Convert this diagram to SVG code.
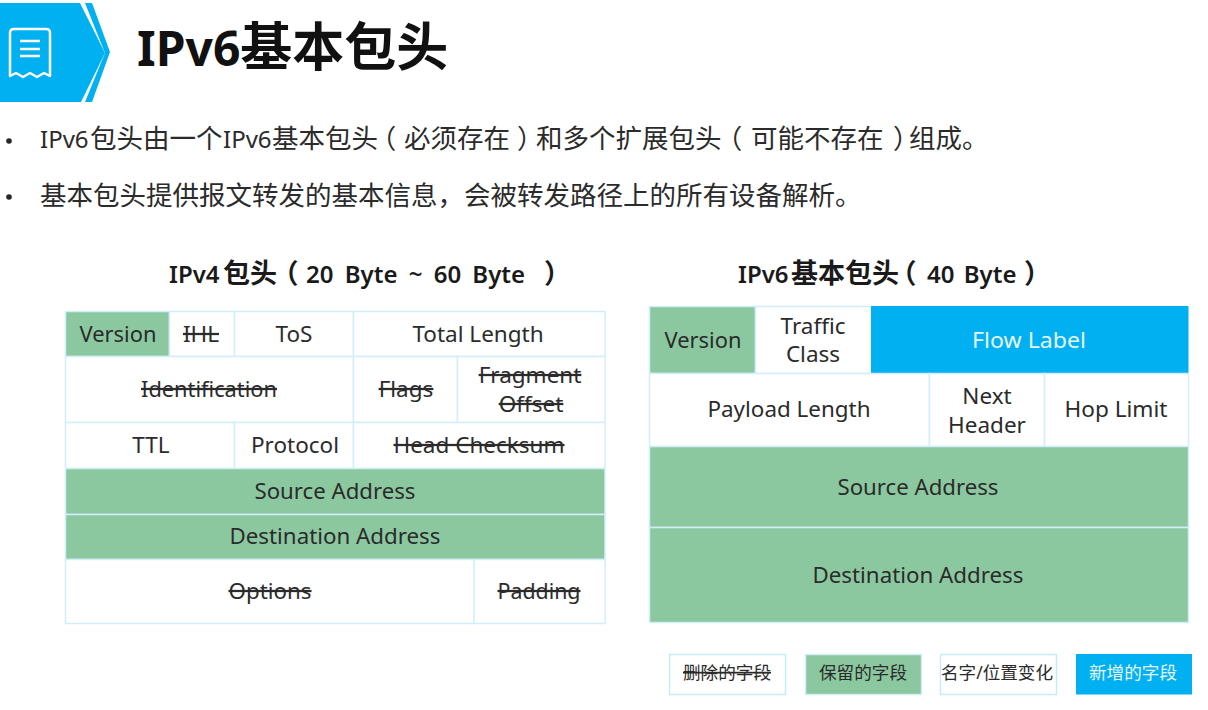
<svg xmlns="http://www.w3.org/2000/svg" width="1208" height="710" viewBox="0 0 1208 710">
<style>
text{font-family:"Noto Sans","Noto Sans CJK SC",sans-serif;fill:#2b2b2b;text-anchor:middle}
.t{font-size:22.500px}
.s{text-decoration:line-through}
.l{text-anchor:start;font-size:26.500px}
.l .a{font-size:24px}
.h{font-size:27px;font-weight:700;fill:#1a1a1a;text-anchor:start}
.h .a{font-size:24px;font-weight:600}
.p{font-feature-settings:"halt"}
.g{font-size:17.600px}
rect{stroke:#d3eefb;stroke-width:1.5;fill:#fff}
rect.k{fill:#8bc8a0}
rect.n{fill:#00b0f0;stroke:none}
</style>
<g id="banner">
<path d="M0 3H80L105 53L81 102H0Z" fill="#00b0f0"/>
<path d="M85 3H92L110 52L92 102H85L105 53Z" fill="#00b0f0"/>
<path d="M10 33Q10 29 14 29H46Q50 29 50 33V76L44 73L37 77L30 73L23 77L16 73L10 76Z" fill="none" stroke="#fff" stroke-width="2.500" stroke-linejoin="round"/>
<path d="M20 41H40M20 49H40M20 56H40" stroke="#fff" stroke-width="2.500" fill="none"/>
<text x="137" y="66" style="font-size:52px;font-weight:700;text-anchor:start;fill:#111"><tspan style="font-size:48px">IPv6</tspan>基本包头</text>
</g>
<g id="bullets">
<circle cx="9" cy="141" r="2.800" fill="#262626"/>
<circle cx="9" cy="197" r="2.800" fill="#262626"/>
<text class="l" x="40" y="148"><tspan class="a">IPv6</tspan><tspan x="90">包头由一个</tspan><tspan class="a" x="223">IPv6</tspan><tspan x="272">基本包头</tspan><tspan class="p" x="383">（</tspan><tspan x="404">必须存在</tspan><tspan class="p" x="517">）</tspan><tspan x="536">和多个扩展包头</tspan><tspan class="p" x="729">（</tspan><tspan x="751">可能不存在</tspan><tspan class="p" x="893">）</tspan><tspan x="909">组成。</tspan></text>
<text class="l" x="40" y="205">基本包头提供报文转发的基本信息，会被转发路径上的所有设备解析。</text>
</g>
<text class="h" x="169" y="283"><tspan class="a">IPv4</tspan><tspan x="223">包头</tspan><tspan class="p" x="285">（</tspan><tspan class="a" x="306" style="word-spacing:5px">20 Byte ~ 60 Byte</tspan><tspan class="p" x="544">）</tspan></text>
<text class="h" x="738" y="283"><tspan class="a">IPv6</tspan><tspan x="791">基本包头</tspan><tspan class="p" x="903">（</tspan><tspan class="a" x="927" style="word-spacing:3px">40 Byte</tspan><tspan class="p" x="1024">）</tspan></text>
<g id="ipv4">
<g id="v4-version"><rect class="k" x="65.500" y="311.500" width="104" height="45"/><text class="t" x="118" y="342" textLength="77" lengthAdjust="spacingAndGlyphs">Version</text></g>
<g id="v4-ihl"><rect x="169.500" y="311.500" width="65" height="45"/><text class="t s" x="201" y="342">IHL</text></g>
<g id="v4-tos"><rect x="234.500" y="311.500" width="119" height="45"/><text class="t" x="294" y="342">ToS</text></g>
<g id="v4-total"><rect x="353.500" y="311.500" width="251.500" height="45"/><text class="t" x="478" y="342">Total Length</text></g>
<g id="v4-id"><rect x="65.500" y="356.500" width="288" height="66"/><text class="t s" x="209" y="397" textLength="136" lengthAdjust="spacingAndGlyphs">Identification</text></g>
<g id="v4-flags"><rect x="353.500" y="356.500" width="104" height="66"/><text class="t s" x="406" y="397">Flags</text></g>
<g id="v4-frag"><rect x="457.500" y="356.500" width="147.500" height="66"/><text class="t s" x="530" y="383">Fragment</text><text class="t s" x="531" y="412">Offset</text></g>
<g id="v4-ttl"><rect x="65.500" y="422.500" width="169" height="46"/><text class="t" x="151" y="453">TTL</text></g>
<g id="v4-proto"><rect x="234.500" y="422.500" width="119" height="46"/><text class="t" x="295" y="453">Protocol</text></g>
<g id="v4-csum"><rect x="353.500" y="422.500" width="251.500" height="46"/><text class="t s" x="479" y="453">Head Checksum</text></g>
<g id="v4-src"><rect class="k" x="65.500" y="468.500" width="539.500" height="46"/><text class="t" x="335" y="499" textLength="161" lengthAdjust="spacingAndGlyphs">Source Address</text></g>
<g id="v4-dst"><rect class="k" x="65.500" y="514.500" width="539.500" height="45"/><text class="t" x="335" y="544" textLength="211" lengthAdjust="spacingAndGlyphs">Destination Address</text></g>
<g id="v4-opt"><rect x="65.500" y="559.500" width="408.500" height="64"/><text class="t s" x="270" y="599" textLength="83" lengthAdjust="spacingAndGlyphs">Options</text></g>
<g id="v4-pad"><rect x="474" y="559.500" width="131" height="64"/><text class="t s" x="539" y="599" textLength="83" lengthAdjust="spacingAndGlyphs">Padding</text></g>
</g>
<g id="ipv6">
<g id="v6-version"><rect class="k" x="649.500" y="306.500" width="106" height="67"/><text class="t" x="703" y="348" textLength="77" lengthAdjust="spacingAndGlyphs">Version</text></g>
<g id="v6-tc"><rect x="755.500" y="306.500" width="116" height="67"/><text class="t" x="813" y="334">Traffic</text><text class="t" x="813" y="362">Class</text></g>
<g id="v6-flow"><rect class="n" x="871" y="306" width="317.500" height="67.500"/><text class="t" x="1029" y="348" style="fill:#e4f6fe" textLength="114" lengthAdjust="spacingAndGlyphs">Flow Label</text></g>
<g id="v6-payload"><rect x="649.500" y="373.500" width="280" height="73"/><text class="t" x="789" y="417" textLength="163" lengthAdjust="spacingAndGlyphs">Payload Length</text></g>
<g id="v6-next"><rect x="929.500" y="373.500" width="115" height="73"/><text class="t" x="987" y="404">Next</text><text class="t" x="987" y="433">Header</text></g>
<g id="v6-hop"><rect x="1044.500" y="373.500" width="144" height="73"/><text class="t" x="1116" y="417" textLength="103" lengthAdjust="spacingAndGlyphs">Hop Limit</text></g>
<g id="v6-src"><rect class="k" x="649.500" y="446.500" width="539" height="81"/><text class="t" x="918" y="495" textLength="161" lengthAdjust="spacingAndGlyphs">Source Address</text></g>
<g id="v6-dst"><rect class="k" x="649.500" y="527.500" width="539" height="95"/><text class="t" x="918" y="583" textLength="211" lengthAdjust="spacingAndGlyphs">Destination Address</text></g>
</g>
<g id="legend">
<g id="lg-del"><rect x="669.500" y="654.500" width="116" height="40" style="stroke:#c5ebfb"/><text class="g s" x="727" y="679">删除的字段</text></g>
<g id="lg-keep"><rect class="k" x="805.500" y="654.500" width="116" height="40"/><text class="g" x="863" y="679">保留的字段</text></g>
<g id="lg-rename"><rect x="940.500" y="654.500" width="116" height="40" style="stroke:#c5ebfb"/><text class="g" x="997" y="679">名字/位置变化</text></g>
<g id="lg-new"><rect class="n" x="1076" y="654" width="116" height="40.500"/><text class="g" x="1133" y="679" style="fill:#e4f6fe">新增的字段</text></g>
</g>
</svg>
